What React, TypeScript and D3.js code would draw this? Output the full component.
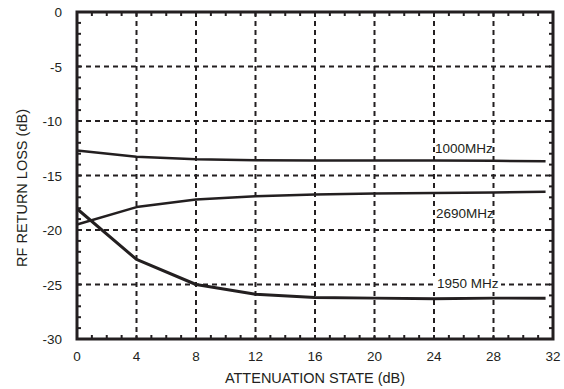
import React from "react";
import * as d3 from "d3";

const xTicks = [0, 4, 8, 12, 16, 20, 24, 28, 32];
const yTicks = [0, -5, -10, -15, -20, -25, -30];

const xs = [0, 4, 8, 12, 16, 20, 24, 28, 31.5];
const loss1000 = [-12.7, -13.27, -13.5, -13.6, -13.62, -13.63, -13.63, -13.65, -13.7];
const loss2690 = [-19.5, -17.9, -17.2, -16.9, -16.75, -16.65, -16.6, -16.55, -16.5];
const loss1950 = [-18.05, -22.7, -25.0, -25.9, -26.2, -26.25, -26.3, -26.25, -26.25];

const seriesNames = ["1000MHz", "2690MHz", "1950 MHz"];

const W = 564;
const H = 389;
const M = { left: 77, right: 553, top: 12, bottom: 339 };
const INK = "#231f20";
const FONT = "'Liberation Sans', Arial, Helvetica, sans-serif";

export default function App() {
  const x = d3.scaleLinear().domain([0, 32]).range([M.left, M.right]);
  const y = d3.scaleLinear().domain([-30, 0]).range([M.bottom, M.top]);
  const line = d3
    .line<[number, number]>()
    .x((d) => x(d[0]))
    .y((d) => y(d[1]))
    .curve(d3.curveLinear);

  const mk = (vals: number[]) => xs.map((v, i) => [v, vals[i]] as [number, number]);

  const minorX = d3.range(0, 33, 1);
  const minorY = d3.range(-30, 1, 1);
  const tickLen = 4;

  return (
    <svg width={W} height={H} style={{ position: "absolute", left: 0, top: 0 }}>
      <rect x={0} y={0} width={W} height={H} fill="white" />
      {/* grid */}
      <g stroke={INK} strokeWidth={2} strokeDasharray="5,4">
        {xTicks.slice(1, -1).map((t) => (
          <line key={"gx" + t} x1={x(t)} x2={x(t)} y1={M.top} y2={M.bottom} />
        ))}
        {yTicks.slice(1, -1).map((t) => (
          <line key={"gy" + t} x1={M.left} x2={M.right} y1={y(t)} y2={y(t)} />
        ))}
      </g>
      {/* minor ticks */}
      <g stroke={INK} strokeWidth={2}>
        {minorX.map((t) => (
          <g key={"mx" + t}>
            <line x1={x(t)} x2={x(t)} y1={M.bottom} y2={M.bottom - tickLen} />
            <line x1={x(t)} x2={x(t)} y1={M.top} y2={M.top + tickLen} />
          </g>
        ))}
        {minorY.map((t) => (
          <g key={"my" + t}>
            <line x1={M.left} x2={M.left + tickLen} y1={y(t)} y2={y(t)} />
            <line x1={M.right} x2={M.right - tickLen} y1={y(t)} y2={y(t)} />
          </g>
        ))}
      </g>
      {/* label backgrounds */}
      <rect x={433} y={276} width={68} height={16} fill="white" />
      {/* series */}
      <g fill="none" stroke={INK} strokeLinejoin="round">
        <path d={line(mk(loss1000)) || ""} strokeWidth={2.5} />
        <path d={line(mk(loss2690)) || ""} strokeWidth={2.5} />
        <path d={line(mk(loss1950)) || ""} strokeWidth={3} />
      </g>
      {/* frame */}
      <rect
        x={M.left}
        y={M.top}
        width={M.right - M.left}
        height={M.bottom - M.top}
        fill="none"
        stroke={INK}
        strokeWidth={3}
      />
      {/* tick labels */}
      <g fontFamily={FONT} fontSize={13.5} fill={INK}>
        {xTicks.map((t) => (
          <text key={"xl" + t} x={x(t)} y={361} textAnchor="middle">
            {t}
          </text>
        ))}
        {yTicks.map((t) => (
          <text key={"yl" + t} x={62} y={y(t) + 5} textAnchor="end">
            {t}
          </text>
        ))}
      </g>
      <g fontFamily={FONT} fontSize={14.5} fill={INK}>
        <text x={315} y={383} textAnchor="middle">
          ATTENUATION STATE (dB)
        </text>
        <text transform={`translate(27,188) rotate(-90)`} textAnchor="middle">
          RF RETURN LOSS (dB)
        </text>
      </g>
      <g fontFamily={FONT} fontSize={13.5} fill={INK}>
        <text x={435} y={153}>{seriesNames[0]}</text>
        <text x={436} y={218}>{seriesNames[1]}</text>
        <text x={437} y={288}>{seriesNames[2]}</text>
      </g>
    </svg>
  );
}
